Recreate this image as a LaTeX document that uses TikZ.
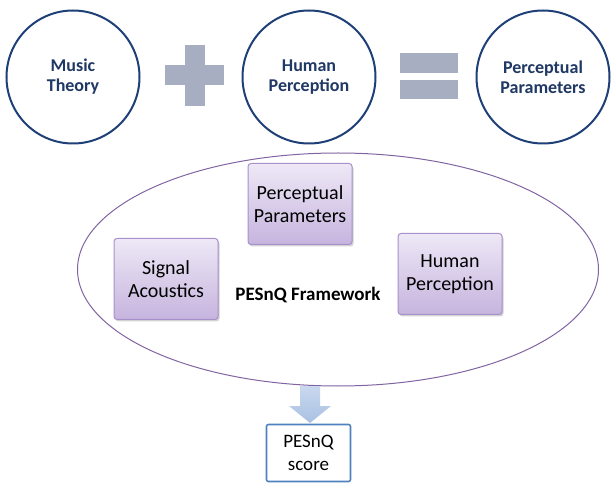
\documentclass[tikz,border=0pt]{standalone}
\usepackage{fontspec}
\setmainfont{Carlito}
\usetikzlibrary{shadows,shapes.geometric,calc}
\definecolor{navy}{HTML}{1F3F77}
\definecolor{navytext}{HTML}{1F3864}
\definecolor{opgray}{HTML}{A8AEC1}
\definecolor{boxtop}{HTML}{EEE8F6}
\definecolor{boxbot}{HTML}{C6B4DE}
\definecolor{boxline}{HTML}{A890CC}
\definecolor{ellline}{HTML}{8064A2}
\definecolor{arrowtop}{HTML}{C9D8EE}
\definecolor{arrowbot}{HTML}{A9C1E2}
\definecolor{scoreline}{HTML}{4F81BD}
\tikzset{
  topcircle/.style={draw=navy, line width=2pt, fill=white, circle, minimum size=133pt, inner sep=0pt,
    align=center, text=navytext, font=\fontsize{18}{20}\selectfont\bfseries},
  pbox/.style={draw=boxline, line width=1pt, rounded corners=3pt, top color=boxtop, bottom color=boxbot,
    minimum width=104pt, minimum height=81pt, align=center, inner sep=0pt,
    font=\fontsize{20}{23}\selectfont, drop shadow={shadow xshift=1.5pt, shadow yshift=-2pt, opacity=0.35}},
  frame/.style={draw=ellline, line width=1pt, ellipse, minimum width=521pt, minimum height=233pt},
  scorebox/.style={draw=scoreline, line width=1.6pt, fill=white, rounded corners=2pt, minimum width=84pt,
    minimum height=57pt, align=center, inner sep=0pt, font=\fontsize{19}{23}\selectfont},
  opbar/.style={draw=none, fill=opgray, inner sep=0pt},
}
\begin{document}
\begin{tikzpicture}[x=1pt,y=-1pt]
\useasboundingbox (0,0) rectangle (611,489);
% top equation
\node[topcircle] (mt) at (73,77) {Music\\Theory};
\node[topcircle] (hp) at (309,77) {Human\\Perception};
\node[topcircle] (pp) at (543,77) {Perceptual\\Parameters};
\node[opbar, minimum width=59pt, minimum height=20pt] (plh) at (194.5,75) {};
\node[opbar, minimum width=20pt, minimum height=61pt] (plv) at (195,75.5) {};
\node[opbar, minimum width=58pt, minimum height=20pt] (eq1) at (429,63) {};
\node[opbar, minimum width=58pt, minimum height=19pt] (eq2) at (429,89.5) {};
% framework
\node[frame] (fw) at (338,269.5) {};
\node[pbox] (ppb) at (300,204) {Perceptual\\Parameters};
\node[pbox] (sab) at (166,279) {Signal\\Acoustics};
\node[pbox] (hpb) at (450,274) {Human\\Perception};
\node[font=\fontsize{19}{22}\selectfont\bfseries] (fwl) at (308,295) {PESnQ Framework};
% arrow and score
\coordinate (arrtop) at (310,386);
\shade[top color=arrowtop, bottom color=arrowbot]
  ($(arrtop)+(-10,0)$) -- ($(arrtop)+(10,0)$) -- ($(arrtop)+(10,20)$) -- ($(arrtop)+(21,20)$)
  -- ($(arrtop)+(0,37)$) -- ($(arrtop)+(-21,20)$) -- ($(arrtop)+(-10,20)$) -- cycle;
\node[scorebox] (sc) at (308.5,453) {PESnQ\\score};
\end{tikzpicture}
\end{document}
